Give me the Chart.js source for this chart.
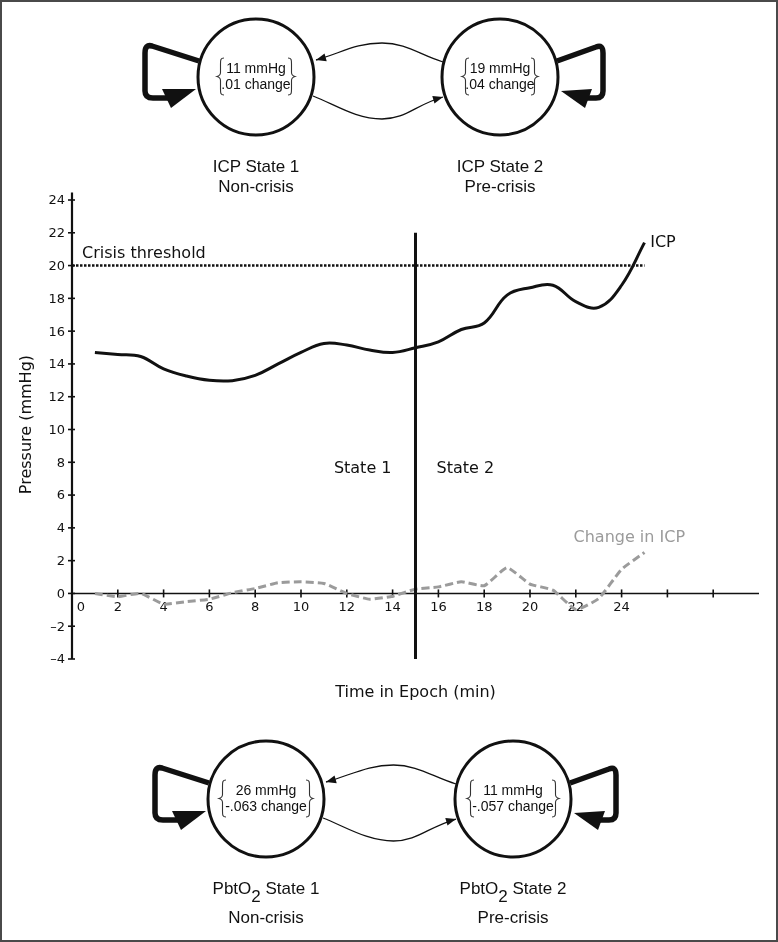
<!DOCTYPE html>
<html lang="en">
<head>
  <meta charset="UTF-8">
  <title>ICP states and crisis threshold</title>
  <script src="https://cdn.jsdelivr.net/npm/chart.js"></script>
  <style>
    html, body { margin: 0; padding: 0; background: #fff; }
    #page { position: relative; width: 778px; height: 942px; overflow: hidden; }
    #chart, #diagrams, #frame { position: absolute; left: 0; top: 0; }
    #frame { width: 778px; height: 942px; box-sizing: border-box; border: 2px solid #4a4a4a; }
  </style>
</head>
<body>
  <div id="page">
    <canvas id="chart" width="778" height="942"></canvas>
    <svg id="diagrams" width="778" height="942" viewBox="0 0 778 942"></svg>
    <div id="frame"></div>
  </div>

  <script>
    // values (epoch minutes 1..25)
    const epochs = [1, 2, 3, 4, 5, 6, 7, 8, 9, 10, 11, 12, 13, 14, 15, 16, 17, 18, 19, 20, 21, 22, 23, 24, 25];
    const icpValues = [14.7, 14.58, 14.45, 13.7, 13.26, 13.0, 12.98, 13.3, 14.0, 14.7, 15.25, 15.15, 14.85, 14.7,
                       14.99, 15.35, 16.1, 16.5, 18.2, 18.65, 18.8, 17.8, 17.45, 18.8, 21.4];
    const icpChange = [0, -0.2, 0, -0.65, -0.5, -0.35, 0.04, 0.3, 0.65, 0.71, 0.61, 0, -0.35, -0.17,
                       0.26, 0.4, 0.71, 0.47, 1.57, 0.57, 0.2, -0.98, -0.31, 1.47, 2.5];
    const thresholdValue = 20;
    const thresholdSpan = [0, 25];
    const stateBoundary = 15;
    const boundarySpan = [-4, 22];
    const yTickValues = [-4, -2, 0, 2, 4, 6, 8, 10, 12, 14, 16, 18, 20, 22, 24];
    const xTickValues = [2, 4, 6, 8, 10, 12, 14, 16, 18, 20, 22, 24, 26, 28];
    const xTickLabels = ['0', '2', '4', '6', '8', '10', '12', '14', '16', '18', '20', '22', '24'];

    // state diagram text
    const icpNodes = [
      { level: '11 mmHg', change: '.01 change', title: 'ICP State 1', sub: 'Non-crisis' },
      { level: '19 mmHg', change: '.04 change', title: 'ICP State 2', sub: 'Pre-crisis' }
    ];
    const pbtNodes = [
      { level: '26 mmHg', change: '-.063 change', title: 'State 1', sub: 'Non-crisis' },
      { level: '11 mmHg', change: '-.057 change', title: 'State 2', sub: 'Pre-crisis' }
    ];

    const chartFont = '"DejaVu Sans", "Lucida Grande", sans-serif';

    const axesAndLabels = {
      id: 'axesAndLabels',
      beforeDatasetsDraw(chart) {
        const { ctx, scales: { x, y } } = chart;
        const x0 = x.getPixelForValue(0);
        const y0 = y.getPixelForValue(0);
        ctx.save();
        ctx.strokeStyle = '#111';
        ctx.fillStyle = '#111';

        ctx.lineWidth = 2.2;
        ctx.beginPath();
        ctx.moveTo(x0, y.getPixelForValue(24.45));
        ctx.lineTo(x0, y.getPixelForValue(-4));
        ctx.stroke();

        ctx.lineWidth = 1.6;
        ctx.beginPath();
        ctx.moveTo(x0, y0);
        ctx.lineTo(x.getPixelForValue(30), y0);
        ctx.stroke();

        ctx.font = '13px ' + chartFont;
        ctx.textAlign = 'right';
        ctx.textBaseline = 'middle';
        yTickValues.forEach(v => {
          const py = y.getPixelForValue(v);
          ctx.beginPath();
          ctx.moveTo(x0 - 4, py);
          ctx.lineTo(x0 + 3, py);
          ctx.stroke();
          ctx.fillText(v < 0 ? '\u2013' + Math.abs(v) : String(v), x0 - 7, py + 1);
        });

        xTickValues.forEach(v => {
          const px = x.getPixelForValue(v);
          ctx.beginPath();
          ctx.moveTo(px, y0 - 4);
          ctx.lineTo(px, y0 + 4);
          ctx.stroke();
        });
        ctx.textAlign = 'center';
        xTickLabels.forEach((lab, i) => {
          const px = i === 0 ? x0 + 9 : x.getPixelForValue(i * 2);
          ctx.fillText(lab, px, y0 + 14);
        });
        ctx.restore();
      },
      afterDraw(chart) {
        const { ctx, scales: { x, y } } = chart;
        ctx.save();
        ctx.font = '16px ' + chartFont;
        ctx.fillStyle = '#111';
        ctx.textBaseline = 'alphabetic';
        ctx.textAlign = 'left';
        ctx.fillText('Crisis threshold', x.getPixelForValue(0) + 10, y.getPixelForValue(thresholdValue) - 8);
        ctx.fillText('ICP', x.getPixelForValue(25.25), y.getPixelForValue(21.15));
        ctx.textAlign = 'right';
        ctx.fillText('State 1', x.getPixelForValue(stateBoundary) - 24, y.getPixelForValue(7.35));
        ctx.textAlign = 'left';
        ctx.fillText('State 2', x.getPixelForValue(stateBoundary) + 21, y.getPixelForValue(7.35));
        ctx.fillStyle = '#9b9b9b';
        ctx.fillText('Change in ICP', x.getPixelForValue(21.9), y.getPixelForValue(3.15));

        ctx.fillStyle = '#111';
        ctx.textAlign = 'center';
        ctx.fillText('Time in Epoch (min)', x.getPixelForValue(stateBoundary), y.bottom + 38);
        ctx.translate(27, y.getPixelForValue(10.3));
        ctx.rotate(-Math.PI / 2);
        ctx.textBaseline = 'middle';
        ctx.fillText('Pressure (mmHg)', 0, 0);
        ctx.restore();
      }
    };

    new Chart(document.getElementById('chart'), {
      type: 'line',
      data: {
        datasets: [
          {
            label: 'Crisis threshold',
            data: thresholdSpan.map(v => ({ x: v, y: thresholdValue })),
            borderColor: '#111',
            borderWidth: 2.6,
            borderDash: [2.5, 1.5],
            pointRadius: 0
          },
          {
            label: 'State boundary',
            data: boundarySpan.map(v => ({ x: stateBoundary, y: v })),
            borderColor: '#111',
            borderWidth: 3,
            pointRadius: 0
          },
          {
            label: 'Change in ICP',
            data: epochs.map((e, i) => ({ x: e, y: icpChange[i] })),
            borderColor: '#9b9b9b',
            borderWidth: 3,
            borderDash: [8, 4],
            tension: 0.15,
            pointRadius: 0
          },
          {
            label: 'ICP',
            data: epochs.map((e, i) => ({ x: e, y: icpValues[i] })),
            borderColor: '#111',
            borderWidth: 3,
            tension: 0.4,
            pointRadius: 0
          }
        ]
      },
      options: {
        responsive: false,
        animation: false,
        layout: { padding: { left: 72, right: 19, top: 200, bottom: 283 } },
        plugins: { legend: { display: false }, tooltip: { enabled: false } },
        scales: {
          x: { type: 'linear', min: 0, max: 30, display: false },
          y: { type: 'linear', min: -4, max: 24, display: false }
        }
      },
      plugins: [axesAndLabels]
    });

    // ---- state transition diagrams ----
    const svg = document.getElementById('diagrams');
    const NS = 'http://www.w3.org/2000/svg';
    function el(tag, attrs, parent) {
      const n = document.createElementNS(NS, tag);
      for (const k in attrs) n.setAttribute(k, attrs[k]);
      (parent || svg).appendChild(n);
      return n;
    }
    function text(str, x, y, size, parent) {
      const t = el('text', { x, y, 'font-size': size, 'text-anchor': 'middle', fill: '#111',
        'font-family': '"Liberation Sans", Arial, Helvetica, sans-serif' }, parent);
      t.textContent = str;
      return t;
    }
    function brace(x, y0, y1, dir) {
      // dir = -1 for "{", +1 for "}"
      const w = 7 * dir, ym = (y0 + y1) / 2;
      const xa = x - w, xm = x - w / 2;
      const d = `M${xa},${y0} C${xm},${y0} ${xm},${y0 + 2} ${xm},${y0 + 6} L${xm},${ym - 4} ` +
                `C${xm},${ym - 1} ${x},${ym} ${x},${ym} C${x},${ym} ${xm},${ym + 1} ${xm},${ym + 4} ` +
                `L${xm},${y1 - 6} C${xm},${y1 - 2} ${xm},${y1} ${xa},${y1}`;
      el('path', { d, fill: 'none', stroke: '#333', 'stroke-width': 1.1 });
    }
    function thinArrow(p) {
      // p: [start, c1, c2, mid, c3, c4, end]
      const [s, a, b, m, c, d, e] = p;
      el('path', {
        d: `M${s} C${a} ${b} ${m} C${c} ${d} ${e}`,
        fill: 'none', stroke: '#111', 'stroke-width': 1.3
      });
      const dx = e[0] - d[0], dy = e[1] - d[1], L = Math.hypot(dx, dy);
      const ux = dx / L, uy = dy / L;
      const bx = e[0] - ux * 10, by = e[1] - uy * 10;
      el('polygon', {
        points: `${e[0]},${e[1]} ${bx - uy * 4},${by + ux * 4} ${bx + uy * 4},${by - ux * 4}`,
        fill: '#111'
      });
    }

    function diagram(nodes, cx1, cx2, cy, braceHalf, subtitleGap, subscript) {
      const mx = (cx1 + cx2) / 2;
      [cx1, cx2].forEach((cx, i) => {
        el('circle', { cx, cy, r: 58, fill: 'none', stroke: '#111', 'stroke-width': 3 });
        const n = nodes[i];
        text(n.level, cx, cy - 4, 14);
        text(n.change, cx, cy + 12, 14);
        brace(cx - braceHalf[i], cy - 19, cy + 18, -1);
        brace(cx + braceHalf[i], cy - 19, cy + 18, 1);
        if (subscript) {
          const t = text('', cx, cy + 95, 17);
          const a = el('tspan', {}, t); a.textContent = 'PbtO';
          const b = el('tspan', { dy: 8 }, t); b.textContent = '2';
          const c = el('tspan', { dy: -8 }, t); c.textContent = ' ' + n.title;
        } else {
          text(n.title, cx, cy + 95, 17);
        }
        text(n.sub, cx, cy + 95 + subtitleGap, 17);
      });

      // self loops
      el('path', {
        d: `M${cx1 - 57},${cy - 16} L${cx1 - 104},${cy - 31} Q${cx1 - 111},${cy - 33} ${cx1 - 111},${cy - 24} ` +
           `L${cx1 - 111},${cy + 14} Q${cx1 - 111},${cy + 21} ${cx1 - 103},${cy + 21} L${cx1 - 88},${cy + 21}`,
        fill: 'none', stroke: '#111', 'stroke-width': 5.5, 'stroke-linejoin': 'round'
      });
      el('polygon', { points: `${cx1 - 60},${cy + 12} ${cx1 - 94},${cy + 12} ${cx1 - 85},${cy + 31}`, fill: '#111' });
      el('path', {
        d: `M${cx2 + 57},${cy - 16} L${cx2 + 96},${cy - 30} Q${cx2 + 103},${cy - 33} ${cx2 + 103},${cy - 24} ` +
           `L${cx2 + 103},${cy + 14} Q${cx2 + 103},${cy + 21} ${cx2 + 96},${cy + 21} L${cx2 + 86},${cy + 21}`,
        fill: 'none', stroke: '#111', 'stroke-width': 5.5, 'stroke-linejoin': 'round'
      });
      el('polygon', { points: `${cx2 + 61},${cy + 14} ${cx2 + 92},${cy + 12} ${cx2 + 85},${cy + 31}`, fill: '#111' });

      // transitions between states
      thinArrow([[cx2 - 57, cy - 15], [cx2 - 80, cy - 22], [mx + 28, cy - 34], [mx + 4, cy - 34],
                 [mx - 22, cy - 34], [cx1 + 85, cy - 24], [cx1 + 60, cy - 17]]);
      thinArrow([[cx1 + 57, cy + 19], [cx1 + 80, cy + 28], [mx - 22, cy + 42], [mx + 4, cy + 42],
                 [mx + 28, cy + 42], [cx2 - 85, cy + 28], [cx2 - 57, cy + 20]]);
    }

    diagram(icpNodes, 256, 500, 77, [39, 38], 20, false);
    diagram(pbtNodes, 266, 513, 799, [47, 46], 29, true);
  </script>
</body>
</html>
